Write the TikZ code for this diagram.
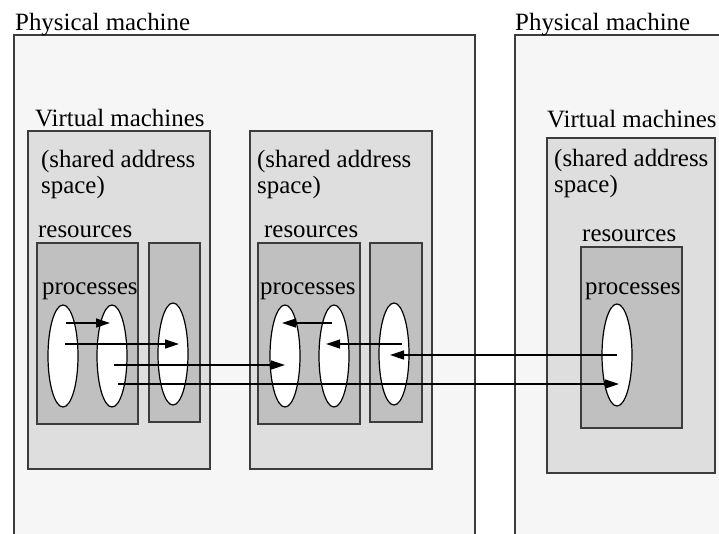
\documentclass[tikz,border=0pt]{standalone}
\usepackage{fontspec}
\setmainfont{Liberation Serif}
\usetikzlibrary{positioning,arrows.meta,shapes.geometric}
\definecolor{pmgray}{HTML}{F6F6F6}
\definecolor{vmgray}{HTML}{DEDEDE}
\definecolor{resgray}{HTML}{C0C0C0}
\definecolor{edgegray}{HTML}{3C3C3C}

\begin{document}
\begin{tikzpicture}[x=1pt,y=-1pt,
		font=\fontsize{24.9}{26}\selectfont,
		box/.style={draw=edgegray,rectangle,anchor=north west,inner sep=0pt},
		pmbox/.style={box,fill=pmgray,line width=2pt},
		vmbox/.style={box,fill=vmgray,line width=1.5pt},
		resbox/.style={box,fill=resgray,line width=1.5pt},
		proc/.style={draw,ellipse,fill=white,line width=1.2pt,minimum width=30pt,minimum height=102pt,inner sep=0pt},
		lbl/.style={inner sep=0pt,align=left},
		flow/.style={line width=1.3pt,-{Triangle[length=14pt,width=9pt]}}]
		\useasboundingbox (0,0) rectangle (719,533);
		\clip (0,0) rectangle (719,533);
		\fill[white] (0,0) rectangle (719,533);
		\node[pmbox,minimum width=461pt,minimum height=520pt] (pm1) at (13,34) {};
		\node[pmbox,minimum width=230pt,minimum height=520pt] (pm2) at (514,34) {};
		\node[lbl,above right=-2pt and 2pt of pm1.north west] (pm1lbl) {Physical machine};
		\node[lbl,above right=-2pt and 1pt of pm2.north west] (pm2lbl) {Physical machine};
		\node[vmbox,minimum width=182pt,minimum height=338pt] (vm1) at (27,130) {};
		\node[vmbox,minimum width=182pt,minimum height=338pt] (vm2) at (249,130) {};
		\node[vmbox,minimum width=168pt,minimum height=335pt] (vm3) at (546,137) {};
		\node[lbl,above right=3pt and 8pt of vm1.north west] (vm1lbl) {Virtual machines};
		\node[lbl,above right=9pt and 1pt of vm3.north west] (vm3lbl) {Virtual machines};
		\node[lbl,below right=20pt and 14pt of vm1.north west] (vm1txt) {(shared address\\space)};
		\node[lbl,below right=20pt and 8pt of vm2.north west] (vm2txt) {(shared address\\space)};
		\node[lbl,below right=12pt and 8pt of vm3.north west] (vm3txt) {(shared address\\space)};
		\node[resbox,minimum width=101pt,minimum height=181pt] (rs11) at (36,242) {};
		\node[resbox,minimum width=51pt,minimum height=179pt] (rs12) at (148,242) {};
		\node[resbox,minimum width=102pt,minimum height=181pt] (rs21) at (257,242) {};
		\node[resbox,minimum width=52pt,minimum height=179pt] (rs22) at (369,242) {};
		\node[resbox,minimum width=101pt,minimum height=181pt] (rs31) at (580,246) {};
		\node[lbl,above right=4pt and 2pt of rs11.north west] (rs1lbl) {resources};
		\node[lbl,above right=4pt and 7pt of rs21.north west] (rs2lbl) {resources};
		\node[lbl,above right=4pt and 2pt of rs31.north west] (rs3lbl) {resources};
		\node[lbl,below right=41pt and 6pt of rs11.north west] (pr1lbl) {processes};
		\node[lbl,below right=41pt and 3pt of rs21.north west] (pr2lbl) {processes};
		\node[lbl,below right=37pt and 5pt of rs31.north west] (pr3lbl) {processes};
		\node[proc] (p11) at (63,356) {};
		\node[proc] (p12) at (112,356) {};
		\node[proc] (p13) at (173,354) {};
		\node[proc] (p21) at (285,356) {};
		\node[proc] (p22) at (334,356) {};
		\node[proc] (p23) at (394,354) {};
		\node[proc] (p31) at (617,355) {};
		\coordinate (lane1) at (0,323);
		\coordinate (lane2) at (0,344);
		\coordinate (lane3) at (0,365);
		\coordinate (lane4) at (0,384);
		\coordinate (lane5) at (0,355);
		\draw[flow] ([xshift=3pt]p11 |- lane1) -- ([xshift=-2pt]p12 |- lane1);
		\draw[flow] ([xshift=2pt]p11 |- lane2) -- ([xshift=6pt]p13 |- lane2);
		\draw[flow] ([xshift=2pt]p12 |- lane3) -- (p21 |- lane3);
		\draw[flow] ([xshift=6pt]p12 |- lane4) -- ([xshift=2pt]p31 |- lane4);
		\draw[flow] ([xshift=-2pt]p22 |- lane1) -- ([xshift=-3pt]p21 |- lane1);
		\draw[flow] ([xshift=8pt]p23 |- lane2) -- ([xshift=-8pt]p22 |- lane2);
		\draw[flow] (p31 |- lane5) -- ([xshift=-4pt]p23 |- lane5);
	\end{tikzpicture}
\end{document}
